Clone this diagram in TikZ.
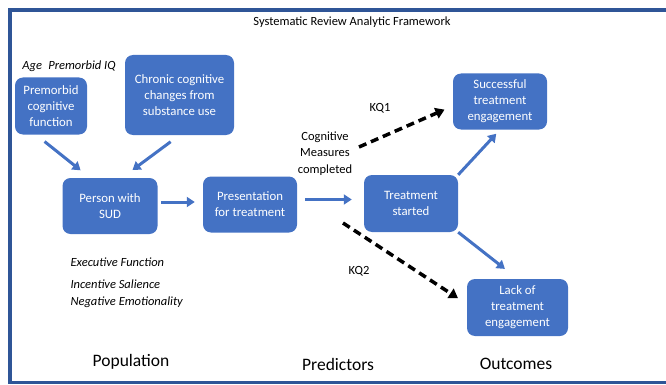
\documentclass[tikz,border=0pt]{standalone}
\usepackage{fontspec}
\setmainfont{Carlito}
\usetikzlibrary{arrows.meta}
\definecolor{boxblue}{HTML}{4472C4}
\definecolor{frameblue}{HTML}{2F5597}
\begin{document}
\begin{tikzpicture}[x=1pt, y=-1pt,
    main/.style = {fill=boxblue, rounded corners=8pt, text=white, align=center, inner sep=0pt, font=\fontsize{12.8}{16}\selectfont},
    arr/.style = {draw=boxblue, line width=3pt, -{Triangle[length=8pt,width=10pt]}},
    kq/.style = {draw=black, line width=3.5pt, dash pattern=on 8pt off 5pt, -{Triangle[length=9pt,width=11pt]}},
    lab/.style = {font=\fontsize{12.5}{15}\selectfont\itshape},
    txt/.style = {font=\fontsize{12.5}{16.5}\selectfont, align=center},
    head/.style = {font=\fontsize{17.5}{20}\selectfont}]
    \useasboundingbox (0,0) rectangle (666,385);
    \draw[frameblue, line width=3.5pt] (666,10) -- (10,10) -- (10,382.5) -- (666,382.5);
    \node[font=\fontsize{12.5}{15}\selectfont] (title) at (352,22) {Systematic Review Analytic Framework};
    % population side
    \node[lab] (agelab) at (69,66) {Age\enspace Premorbid IQ};
    \node[main, minimum width=72pt, minimum height=57pt] (prem) at (51,106) {Premorbid\\cognitive\\function};
    \node[main, minimum width=109pt, minimum height=80pt] (chronic) at (179.5,95) {Chronic cognitive\\changes from\\substance use};
    \node[main, minimum width=95pt, minimum height=56pt] (person) at (110,206) {Person with\\SUD};
    \node[lab, anchor=west] (exec) at (67,262) {Executive Function};
    \node[lab, anchor=west] (incent) at (67,284) {Incentive Salience};
    \node[lab, anchor=west] (negemo) at (67,302) {Negative Emotionality};
    % predictors
    \node[main, minimum width=94pt, minimum height=56pt] (pres) at (250,204.5) {Presentation\\for treatment};
    \node[txt] (cogn) at (325,153.5) {Cognitive\\Measures\\completed};
    \node[txt] (kq1lab) at (380,108) {KQ1};
    \node[txt] (kq2lab) at (359,271) {KQ2};
    % outcomes
    \node[main, minimum width=94pt, minimum height=57pt] (treat) at (411,203.5) {Treatment\\started};
    \node[main, minimum width=94pt, minimum height=56pt] (success) at (500,101.5) {Successful\\treatment\\engagement};
    \node[main, minimum width=101pt, minimum height=57pt] (lack) at (517.5,307.5) {Lack of\\treatment\\engagement};
    \node[head] (poplab) at (131,362) {Population};
    \node[head] (predlab) at (338,364) {Predictors};
    \node[head] (outlab) at (516,364) {Outcomes};
    \coordinate (kq1s) at (359,147);
    \coordinate (kq2s) at (343,223);
    \draw[arr, shorten <=11pt, shorten >=12pt] ([xshift=-15pt]prem.south) -- ([xshift=-20pt]person.north);
    \draw[arr, shorten <=11pt, shorten >=13pt] (chronic.south) -- ([xshift=12pt]person.north);
    \draw[arr, shorten <=3.5pt, shorten >=8pt] ([yshift=4pt]person.east) -- ([yshift=2.5pt]pres.west);
    \draw[arr, shorten <=8pt, shorten >=12pt] ([yshift=5pt]pres.east) -- ([yshift=4pt]treat.west);
    \draw[arr, shorten >=5.5pt] (treat.north east) -- (success.south);
    \draw[arr, shorten >=16pt] (treat.south east) -- (lack.north);
    \draw[kq, shorten >=9pt] (kq1s) -- ([yshift=-4.5pt]success.west);
    \draw[kq, shorten >=10.5pt] (kq2s) -- ([yshift=3.5pt]lack.west);
\end{tikzpicture}
\end{document}
